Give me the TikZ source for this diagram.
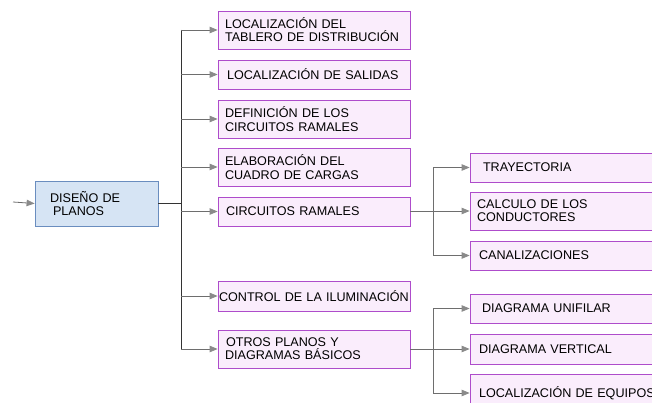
\documentclass[tikz,border=0pt]{standalone}
\usepackage{fontspec}
\setmainfont{Liberation Sans}
\usepackage{xcolor}
\usetikzlibrary{arrows.meta}
\definecolor{boxfill}{HTML}{FAEDFC}
\definecolor{boxline}{HTML}{AE4CCB}
\definecolor{mainfill}{HTML}{D6E4F4}
\definecolor{mainline}{HTML}{6A8DBF}
\definecolor{wire}{HTML}{6E6E6E}
\definecolor{tip}{HTML}{8A8A8A}

\begin{document}
\begin{tikzpicture}[x=1pt,y=-1pt,
  font=\fontsize{12.6}{13.2}\selectfont,
  box/.style={draw=boxline,thick,fill=boxfill,minimum width=192pt,
    text width=178pt,inner xsep=7pt,inner ysep=0pt,align=left},
  rbox/.style={box,minimum width=195pt,text width=181pt},
  mainbox/.style={draw=mainline,thick,fill=mainfill,minimum width=123pt,
    minimum height=45pt,text width=105pt,inner xsep=9pt,align=left},
  branch/.style={wire,thick,-{Triangle[length=8pt,width=6.5pt,color=tip]}},
  trunkline/.style={black!80,thick}]
  \useasboundingbox (0,0) rectangle (652,403);
  \clip (0,0) rectangle (652,403);
  \fill[white] (0,0) rectangle (652,403);
  % main box
  \node[mainbox] (plan) at (96.5,203.5) {\hspace*{6pt}DISEÑO DE\\\hspace*{9pt}PLANOS};
  \coordinate (in) at (13,202);
  \coordinate (tr) at (181,0);
  \coordinate (tr2) at (433,0);
  % first level
  \node[box,minimum height=38pt] (loc) at (314,30) {LOCALIZACIÓN DEL\\TABLERO DE DISTRIBUCIÓN};
  \node[box,minimum height=29pt] (sal) at (314,74.5) {\hspace*{2pt}LOCALIZACIÓN DE SALIDAS};
  \node[box,minimum height=38pt] (def) at (314,119) {DEFINICIÓN DE LOS\\CIRCUITOS RAMALES};
  \node[box,minimum height=38pt] (elab) at (314,167) {ELABORACIÓN DEL\\CUADRO DE CARGAS};
  \node[box,minimum height=29pt] (circ) at (314,211.5) {\hspace*{1pt}CIRCUITOS RAMALES};
  \node[box,minimum height=30pt,inner xsep=1pt,text width=190pt] (ctrl) at (314,296) {CONTROL DE LA ILUMINACIÓN};
  \node[box,minimum height=38pt] (otros) at (314,349) {\hspace*{1pt}OTROS PLANOS Y\\DIAGRAMAS BÁSICOS};
  % second level
  \node[rbox,minimum height=29pt] (tray) at (567.5,167.5) {\hspace*{6pt}TRAYECTORIA};
  \node[rbox,minimum height=38pt] (calc) at (567.5,211) {CALCULO DE LOS\\CONDUCTORES};
  \node[rbox,minimum height=29pt] (cana) at (567.5,255.5) {\hspace*{2pt}CANALIZACIONES};
  \node[rbox,minimum height=29pt] (unif) at (567.5,308.5) {\hspace*{5pt}DIAGRAMA UNIFILAR};
  \node[rbox,minimum height=30pt] (vert) at (567.5,349) {\hspace*{2pt}DIAGRAMA VERTICAL};
  \node[rbox,minimum height=38pt] (equi) at (567.5,393) {\hspace*{2pt}LOCALIZACIÓN DE EQUIPOS};
  % connectors
  \draw[branch] (in) -- (plan.west);
  \draw[trunkline] (plan.east) -- (tr |- plan.east);
  \draw[trunkline] (tr |- loc.west) -- (tr |- otros.west);
  \foreach \b in {loc,sal,def,elab,circ,ctrl,otros} {
    \draw[branch] (tr |- \b.west) -- (\b.west);
  }
  \draw[wire,thick] (circ.east) -- (tr2 |- circ.east);
  \draw[wire,thick] (tr2 |- tray.west) -- (tr2 |- cana.west);
  \draw[wire,thick] (otros.east) -- (tr2 |- otros.east);
  \draw[wire,thick] (tr2 |- unif.west) -- (tr2 |- equi.west);
  \foreach \b in {tray,calc,cana,unif,vert,equi} {
    \draw[branch] (tr2 |- \b.west) -- (\b.west);
  }
\end{tikzpicture}
\end{document}
